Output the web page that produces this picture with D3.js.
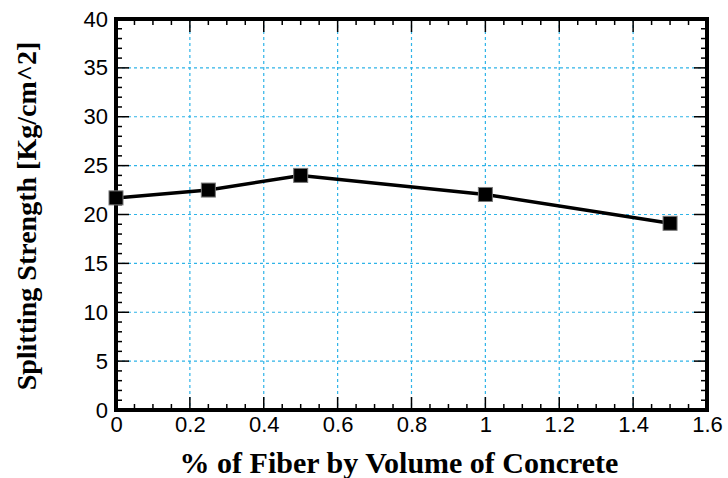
<!DOCTYPE html>
<html>
<head>
<meta charset="utf-8">
<script src="https://cdn.jsdelivr.net/npm/d3@7"></script>
<style>
  body { margin: 0; background: #fff; }
  .tick text { font-family: "Liberation Sans", Arial, sans-serif; font-size: 22px; fill: #000; }
</style>
</head>
<body>
<div id="chart-area"></div>
<script>
var fiber = [0, 0.25, 0.5, 1.0, 1.5];
var strength = [21.7, 22.5, 24.0, 22.05, 19.1];
var xTicks = [0, 0.2, 0.4, 0.6, 0.8, 1, 1.2, 1.4, 1.6];
var yTicks = [0, 5, 10, 15, 20, 25, 30, 35, 40];

var margin = {left: 116, right: 21, top: 19, bottom: 68};
var width = 728 - margin.left - margin.right;
var height = 478 - margin.top - margin.bottom;

var svg = d3.select("#chart-area")
	.append("svg")
		.attr("width", 728)
		.attr("height", 478);
var canvas = svg.append("g")
		.attr("transform", "translate(" + margin.left + ", " + margin.top + ")");

var x = d3.scaleLinear().domain([0, 1.6]).range([0, width]);
var y = d3.scaleLinear().domain([0, 40]).range([height, 0]);

//grid
canvas.append("g").selectAll("line")
	.data(xTicks.slice(1, -1))
	.enter().append("line")
		.attr("x1", function(d){ return x(d) }).attr("x2", function(d){ return x(d) })
		.attr("y1", 0).attr("y2", height)
		.attr("stroke", "#2fb4e8").attr("stroke-width", 1.2)
		.attr("stroke-dasharray", "3,3");
canvas.append("g").selectAll("line")
	.data(yTicks.slice(1, -1))
	.enter().append("line")
		.attr("y1", function(d){ return y(d) }).attr("y2", function(d){ return y(d) })
		.attr("x1", 0).attr("x2", width)
		.attr("stroke", "#2fb4e8").attr("stroke-width", 1.2)
		.attr("stroke-dasharray", "3,3");

//minor + major ticks on all four sides
var xMinor = d3.range(0, 1.6001, 0.05);
var yMinor = d3.range(0, 40.001, 1);
function tickLen(v, step) { return Math.abs(v / step - Math.round(v / step)) < 1e-6 ? 13 : 6; }

var tk = canvas.append("g").attr("stroke", "#000").attr("stroke-width", 1.5);
xMinor.forEach(function(v){
	var l = tickLen(v, 0.2);
	tk.append("line").attr("x1", x(v)).attr("x2", x(v)).attr("y1", height).attr("y2", height - l);
	tk.append("line").attr("x1", x(v)).attr("x2", x(v)).attr("y1", 0).attr("y2", l);
});
yMinor.forEach(function(v){
	var l = tickLen(v, 5);
	tk.append("line").attr("y1", y(v)).attr("y2", y(v)).attr("x1", 0).attr("x2", l);
	tk.append("line").attr("y1", y(v)).attr("y2", y(v)).attr("x1", width).attr("x2", width - l);
});

//axes labels via d3 axes
var xAxisCall = d3.axisBottom(x).tickValues(xTicks).tickSize(0).tickPadding(6)
	.tickFormat(function(d){ return +d.toFixed(1) });
canvas.append("g")
	.attr("transform", "translate(0, " + height + ")")
	.call(xAxisCall)
	.call(function(g){ g.select(".domain").remove(); });

var yAxisCall = d3.axisLeft(y).tickValues(yTicks).tickSize(0).tickPadding(8);
canvas.append("g")
	.call(yAxisCall)
	.call(function(g){ g.select(".domain").remove(); });

//frame
canvas.append("rect")
	.attr("width", width).attr("height", height)
	.attr("fill", "none").attr("stroke", "#000").attr("stroke-width", 4);

//line
var line = d3.line()
	.x(function(d, i){ return x(fiber[i]) })
	.y(function(d){ return y(d) });
canvas.append("path")
	.datum(strength)
	.attr("d", line)
	.attr("fill", "none")
	.attr("stroke", "#000")
	.attr("stroke-width", 3.5);

//markers
canvas.selectAll(".mk")
	.data(strength)
	.enter().append("rect")
		.attr("class", "mk")
		.attr("x", function(d, i){ return x(fiber[i]) - 7 })
		.attr("y", function(d){ return y(d) - 7 })
		.attr("width", 14).attr("height", 14)
		.attr("fill", "#000")
		.attr("stroke", "#777").attr("stroke-width", 1);

//titles
svg.append("text")
	.attr("x", 399).attr("y", 473)
	.attr("text-anchor", "middle")
	.attr("font-family", "Liberation Serif, Times New Roman, serif")
	.attr("font-weight", "bold")
	.attr("font-size", 30)
	.text("% of Fiber by Volume of Concrete");

svg.append("text")
	.attr("transform", "translate(36, 216) rotate(-90)")
	.attr("text-anchor", "middle")
	.attr("font-family", "Liberation Serif, Times New Roman, serif")
	.attr("font-weight", "bold")
	.attr("font-size", 28)
	.text("Splitting Strength [Kg/cm^2]");
</script>
</body>
</html>
